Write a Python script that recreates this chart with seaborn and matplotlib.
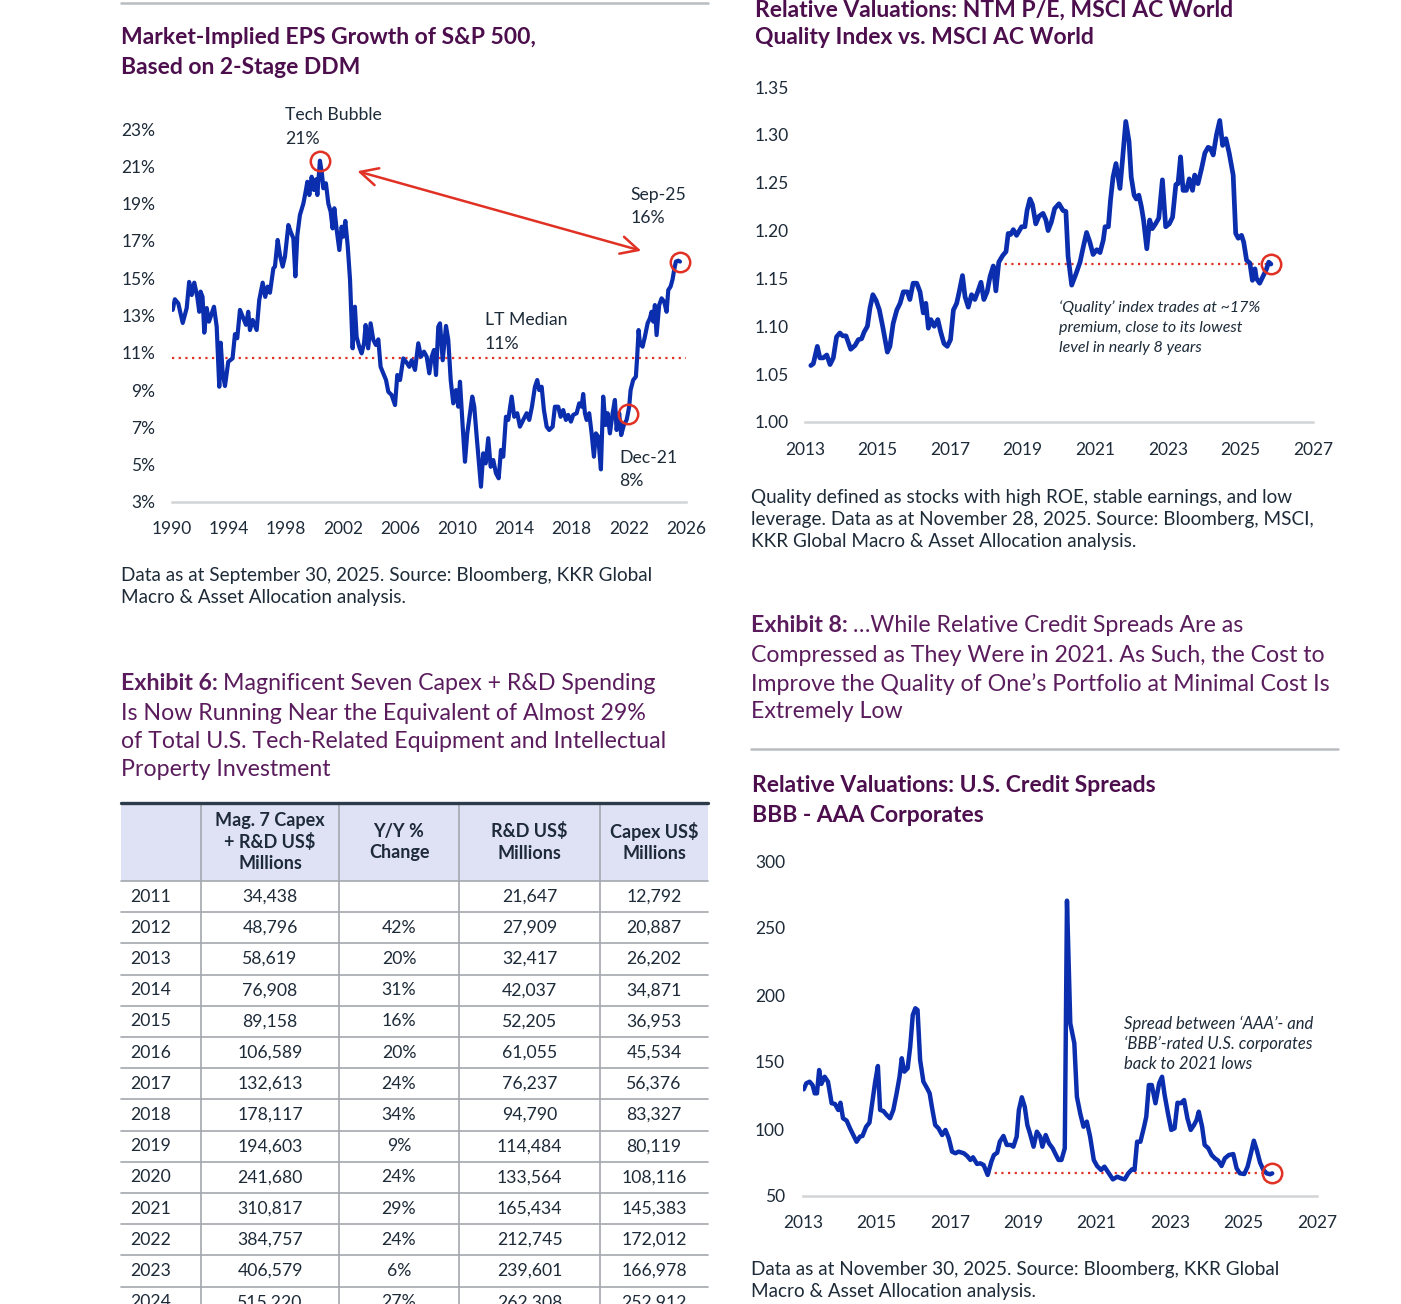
import numpy as np
import pandas as pd
import matplotlib
matplotlib.use("Agg")
import matplotlib.pyplot as plt
import seaborn as sns
from matplotlib.patches import Rectangle

# ---------------- data ----------------
# Market-implied EPS growth of S&P 500 (%)
eps_year = [1990.05, 1990.2, 1990.44, 1990.75, 1991.03, 1991.2, 1991.38, 1991.56, 1991.77, 1991.91,
            1992.0, 1992.14, 1992.26, 1992.43, 1992.59, 1992.78, 1992.94, 1993.13, 1993.31, 1993.41,
            1993.55, 1993.71, 1993.94, 1994.24, 1994.41, 1994.57, 1994.76, 1995.0, 1995.18, 1995.34,
            1995.46, 1995.65, 1995.93, 1996.11, 1996.35, 1996.53, 1996.7, 1996.86, 1997.1, 1997.21,
            1997.4, 1997.56, 1997.75, 1997.91, 1998.15, 1998.31, 1998.5, 1998.64, 1998.78, 1998.96,
            1999.2, 1999.36, 1999.48, 1999.62, 1999.78, 1999.94, 2000.08, 2000.18, 2000.36, 2000.5,
            2000.6, 2000.78, 2000.95, 2001.11, 2001.25, 2001.37, 2001.53, 2001.72, 2001.88, 2002.0,
            2002.14, 2002.31, 2002.47, 2002.65, 2002.81, 2002.93, 2003.11, 2003.28, 2003.45, 2003.56,
            2003.74, 2003.91, 2004.1, 2004.28, 2004.45, 2004.61, 2004.8, 2004.99, 2005.15, 2005.38,
            2005.62, 2005.78, 2005.97, 2006.2, 2006.44, 2006.62, 2006.79, 2007.02, 2007.25, 2007.44,
            2007.65, 2007.84, 2008.02, 2008.19, 2008.35, 2008.49, 2008.65, 2008.77, 2008.96, 2009.19,
            2009.35, 2009.52, 2009.7, 2009.89, 2010.05, 2010.17, 2010.36, 2010.52, 2010.68, 2010.87,
            2011.03, 2011.17, 2011.34, 2011.48, 2011.64, 2011.8, 2011.97, 2012.15, 2012.32, 2012.5,
            2012.69, 2012.88, 2013.04, 2013.2, 2013.39, 2013.55, 2013.79, 2013.97, 2014.18, 2014.37,
            2014.6, 2014.84, 2015.02, 2015.21, 2015.42, 2015.58, 2015.72, 2015.89, 2016.05, 2016.24,
            2016.42, 2016.66, 2016.82, 2017.05, 2017.22, 2017.4, 2017.59, 2017.75, 2017.94, 2018.1,
            2018.34, 2018.52, 2018.69, 2018.8, 2018.92, 2019.04, 2019.22, 2019.39, 2019.55, 2019.69,
            2019.85, 2020.04, 2020.2, 2020.37, 2020.51, 2020.67, 2020.86, 2021.02, 2021.14, 2021.32,
            2021.46, 2021.65, 2021.84, 2021.92, 2022.02, 2022.12, 2022.3, 2022.49, 2022.58, 2022.68,
            2022.77, 2022.96, 2023.12, 2023.31, 2023.47, 2023.59, 2023.71, 2023.82, 2023.94, 2024.12,
            2024.29, 2024.47, 2024.64, 2024.76, 2024.92, 2025.06, 2025.17, 2025.29, 2025.46, 2025.58]
eps_value = [13.3, 13.87, 13.65, 12.6, 13.4, 14.8, 14.1, 14.76, 14.0, 13.2,
             14.28, 14.0, 12.08, 13.4, 12.67, 13.1, 13.47, 12.4, 9.18, 11.54,
             9.9, 9.22, 10.52, 10.7, 12.0, 11.78, 13.3, 12.85, 12.5, 13.2,
             12.22, 12.76, 12.22, 13.83, 14.76, 14.0, 14.55, 14.22, 15.53, 15.62,
             17.05, 16.24, 15.62, 16.15, 17.85, 17.49, 17.14, 15.1, 17.32, 18.39,
             19.0, 19.64, 20.17, 19.46, 20.44, 19.73, 20.3, 19.46, 21.3, 20.62,
             19.82, 20.09, 19.0, 18.57, 17.67, 18.75, 17.62, 16.51, 17.76, 17.23,
             18.07, 16.69, 14.9, 11.24, 13.47, 11.86, 11.33, 10.97, 11.51, 12.49,
             11.24, 12.58, 11.69, 11.42, 11.72, 10.25, 9.9, 9.54, 8.91, 8.74,
             8.2, 9.81, 9.54, 10.7, 10.47, 10.25, 10.6, 10.08, 11.51, 10.79,
             11.06, 10.79, 9.9, 10.79, 11.15, 9.81, 12.4, 12.58, 10.6, 12.44,
             11.69, 9.54, 8.29, 9.0, 8.11, 9.45, 7.04, 5.16, 6.68, 7.76,
             8.65, 8.11, 6.5, 5.25, 3.82, 5.61, 5.07, 6.42, 4.89, 5.25,
             4.54, 4.27, 5.79, 5.43, 7.57, 7.4, 8.65, 7.57, 7.76, 7.04,
             7.4, 7.76, 7.4, 8.11, 9.18, 9.54, 9.0, 9.18, 7.93, 7.04,
             6.86, 7.04, 8.11, 8.11, 7.57, 7.93, 7.4, 7.67, 7.31, 7.67,
             7.76, 8.29, 8.11, 8.79, 7.76, 7.4, 7.76, 6.68, 5.43, 6.68,
             6.5, 4.75, 8.65, 7.13, 7.76, 6.68, 7.76, 8.47, 6.86, 7.76,
             6.59, 7.13, 7.4, 7.7, 8.11, 9.0, 9.54, 9.72, 10.79, 12.22,
             11.51, 11.33, 11.86, 12.58, 12.85, 13.2, 12.67, 13.56, 11.95, 13.56,
             13.92, 13.74, 13.2, 14.37, 14.55, 14.94, 15.44, 15.89, 15.94, 15.89]
eps_median = 10.7
eps_dec21 = 2021.92

# NTM P/E ratio, MSCI AC World Quality vs. MSCI AC World
quality_year = [2013.16, 2013.23, 2013.34, 2013.41, 2013.5, 2013.6, 2013.69, 2013.78, 2013.87, 2013.96,
                2014.04, 2014.13, 2014.26, 2014.38, 2014.47, 2014.56, 2014.63, 2014.72, 2014.79, 2014.87,
                2014.96, 2015.05, 2015.14, 2015.27, 2015.34, 2015.43, 2015.53, 2015.62, 2015.71, 2015.82,
                2015.89, 2015.98, 2016.08, 2016.17, 2016.26, 2016.33, 2016.4, 2016.47, 2016.56, 2016.66,
                2016.74, 2016.83, 2016.92, 2017.01, 2017.09, 2017.18, 2017.25, 2017.34, 2017.41, 2017.5,
                2017.59, 2017.68, 2017.76, 2017.85, 2017.93, 2018.02, 2018.1, 2018.19, 2018.26, 2018.34,
                2018.45, 2018.54, 2018.6, 2018.67, 2018.74, 2018.83, 2018.97, 2019.06, 2019.12, 2019.2,
                2019.27, 2019.36, 2019.45, 2019.56, 2019.64, 2019.7, 2019.79, 2019.88, 2020.0, 2020.11,
                2020.19, 2020.25, 2020.35, 2020.47, 2020.58, 2020.67, 2020.76, 2020.85, 2020.94, 2021.04,
                2021.13, 2021.22, 2021.27, 2021.36, 2021.42, 2021.49, 2021.57, 2021.68, 2021.75, 2021.84,
                2021.93, 2021.99, 2022.07, 2022.13, 2022.2, 2022.27, 2022.33, 2022.42, 2022.5, 2022.57,
                2022.66, 2022.75, 2022.85, 2022.94, 2023.04, 2023.13, 2023.22, 2023.28, 2023.35, 2023.42,
                2023.51, 2023.59, 2023.68, 2023.74, 2023.83, 2023.93, 2024.02, 2024.11, 2024.17, 2024.25,
                2024.34, 2024.43, 2024.51, 2024.6, 2024.69, 2024.8, 2024.87, 2024.94, 2025.03, 2025.09,
                2025.17, 2025.26, 2025.33, 2025.4, 2025.44, 2025.53, 2025.62, 2025.71, 2025.78, 2025.84]
quality_value = [1.059, 1.061, 1.079, 1.067, 1.067, 1.070, 1.060, 1.067, 1.089, 1.093,
                 1.090, 1.090, 1.076, 1.080, 1.086, 1.087, 1.094, 1.100, 1.119, 1.133,
                 1.127, 1.117, 1.100, 1.073, 1.079, 1.103, 1.117, 1.124, 1.136, 1.136,
                 1.128, 1.145, 1.145, 1.136, 1.114, 1.124, 1.098, 1.107, 1.100, 1.107,
                 1.094, 1.082, 1.079, 1.086, 1.117, 1.124, 1.136, 1.153, 1.131, 1.120,
                 1.133, 1.128, 1.136, 1.146, 1.128, 1.136, 1.152, 1.163, 1.137, 1.167,
                 1.174, 1.178, 1.197, 1.196, 1.201, 1.195, 1.204, 1.204, 1.221, 1.233,
                 1.227, 1.207, 1.215, 1.218, 1.211, 1.200, 1.209, 1.223, 1.228, 1.221,
                 1.220, 1.173, 1.143, 1.155, 1.167, 1.183, 1.198, 1.188, 1.175, 1.180,
                 1.177, 1.190, 1.204, 1.204, 1.232, 1.256, 1.270, 1.244, 1.274, 1.314,
                 1.293, 1.256, 1.237, 1.233, 1.237, 1.225, 1.211, 1.181, 1.211, 1.202,
                 1.207, 1.213, 1.253, 1.204, 1.207, 1.214, 1.248, 1.249, 1.277, 1.242,
                 1.242, 1.254, 1.242, 1.258, 1.249, 1.265, 1.281, 1.287, 1.286, 1.279,
                 1.300, 1.315, 1.289, 1.296, 1.281, 1.258, 1.197, 1.192, 1.195, 1.188,
                 1.169, 1.166, 1.148, 1.160, 1.150, 1.145, 1.152, 1.159, 1.167, 1.165]
quality_ref_start = 2018.32

# BBB - AAA US corporate spread (bp)
spread_year = [2013.02, 2013.09, 2013.18, 2013.26, 2013.32, 2013.38, 2013.44, 2013.5, 2013.59, 2013.68,
               2013.78, 2013.87, 2013.96, 2014.02, 2014.09, 2014.19, 2014.28, 2014.37, 2014.46, 2014.55,
               2014.62, 2014.72, 2014.81, 2014.87, 2014.96, 2015.04, 2015.1, 2015.19, 2015.28, 2015.37,
               2015.46, 2015.55, 2015.63, 2015.69, 2015.76, 2015.85, 2015.92, 2015.99, 2016.06, 2016.12,
               2016.19, 2016.28, 2016.38, 2016.45, 2016.51, 2016.6, 2016.69, 2016.79, 2016.88, 2016.97,
               2017.06, 2017.15, 2017.24, 2017.38, 2017.47, 2017.56, 2017.63, 2017.74, 2017.83, 2017.92,
               2018.03, 2018.13, 2018.2, 2018.29, 2018.36, 2018.46, 2018.55, 2018.66, 2018.73, 2018.82,
               2018.88, 2018.96, 2019.04, 2019.11, 2019.18, 2019.28, 2019.37, 2019.46, 2019.52, 2019.61,
               2019.7, 2019.8, 2019.89, 2019.96, 2020.04, 2020.13, 2020.19, 2020.28, 2020.39, 2020.46,
               2020.55, 2020.64, 2020.73, 2020.82, 2020.92, 2021.01, 2021.12, 2021.21, 2021.32, 2021.44,
               2021.56, 2021.66, 2021.76, 2021.86, 2021.96, 2022.03, 2022.1, 2022.19, 2022.29, 2022.35,
               2022.42, 2022.5, 2022.6, 2022.7, 2022.78, 2022.85, 2022.94, 2023.03, 2023.12, 2023.2,
               2023.29, 2023.38, 2023.47, 2023.56, 2023.65, 2023.72, 2023.78, 2023.87, 2023.94, 2024.04,
               2024.13, 2024.22, 2024.31, 2024.4, 2024.49, 2024.6, 2024.72, 2024.81, 2024.9, 2025.02,
               2025.11, 2025.2, 2025.28, 2025.36, 2025.45, 2025.54, 2025.63, 2025.72, 2025.78]
spread_value = [129.6, 134.1, 135.3, 132.8, 126.6, 126.6, 144.0, 133.6, 139.0, 135.3,
                119.2, 118.7, 114.2, 119.6, 108.0, 106.2, 100.5, 95.5, 90.5, 94.3,
                94.8, 101.7, 104.7, 116.6, 134.1, 147.0, 114.2, 113.4, 110.4, 108.0,
                114.2, 126.6, 139.0, 152.8, 142.8, 145.3, 161.4, 185.1, 190.1, 188.8,
                151.5, 135.3, 130.4, 126.6, 116.6, 103.0, 100.5, 95.5, 99.3, 93.1,
                83.1, 81.9, 83.1, 81.9, 79.9, 76.9, 78.9, 73.9, 74.4, 73.1,
                65.7, 75.6, 80.6, 82.3, 90.5, 94.8, 88.1, 88.1, 86.8, 94.3,
                114.2, 123.7, 116.6, 103.0, 96.8, 86.8, 98.0, 94.3, 86.8, 95.5,
                89.3, 85.6, 80.6, 76.9, 76.9, 85.6, 270.4, 178.9, 164.0, 124.1,
                111.7, 101.7, 105.5, 94.3, 76.9, 72.4, 69.4, 71.9, 67.4, 62.4,
                64.4, 63.2, 62.4, 66.9, 69.9, 69.4, 90.5, 90.5, 101.7, 109.2,
                132.8, 132.8, 119.2, 134.1, 139.0, 125.4, 111.7, 99.3, 100.5, 119.6,
                119.2, 121.6, 108.0, 99.3, 103.0, 106.7, 112.9, 101.7, 88.1, 85.6,
                80.6, 78.1, 76.4, 72.4, 78.1, 80.6, 81.3, 70.7, 66.9, 66.4,
                71.9, 81.9, 91.3, 84.3, 74.9, 69.4, 66.9, 66.2, 66.9]
spread_ref_start = 2018.03

# Exhibit 6 table
table_years = [2011, 2012, 2013, 2014, 2015, 2016, 2017, 2018, 2019, 2020, 2021, 2022, 2023, 2024]
mag7_total = [34438, 48796, 58619, 76908, 89158, 106589, 132613, 178117, 194603, 241680,
              310817, 384757, 406579, 515220]
yoy_change = [None, 42, 20, 31, 16, 20, 24, 34, 9, 24, 29, 24, 6, 27]
rd_spend = [21647, 27909, 32417, 42037, 52205, 61055, 76237, 94790, 114484, 133564,
            165434, 212745, 239601, 262308]
capex_spend = [12792, 20887, 26202, 34871, 36953, 45534, 56376, 83327, 80119, 108116,
               145383, 172012, 166978, 252912]
table_headers = ["", "Mag. 7 Capex\n+ R&D US$\nMillions", "Y/Y %\nChange",
                 "R&D US$\nMillions", "Capex US$\nMillions"]

# ---------------- style ----------------
BLUE = "#0a2eae"
RED = "#e03124"
TITLE = "#4c0e4c"
EXHIBIT = "#5a1c5c"
TEXT = "#1d2a38"
AXIS = "#d2d4d6"
RULE = "#b9bdc1"
GRID = "#a3a8ae"
HEADER_BG = "#dfe1f5"

TITLE_SIZE = 16.5
EXHIBIT_SIZE = 16.7
NOTE_SIZE = 13.6

sns.set_theme(style="white")
plt.rcParams["font.family"] = ["Lato", "DejaVu Sans"]

W, H = 1401, 1304
fig = plt.figure(figsize=(W / 100, H / 100), dpi=100)


def add_ax(left, top, right, bottom):
    return fig.add_axes([left / W, 1 - bottom / H, (right - left) / W, (bottom - top) / H])


def style_axis(ax, xticks, yticks, ylabels, xpad, ypad):
    for s in ["top", "right", "left"]:
        ax.spines[s].set_visible(False)
    ax.spines["bottom"].set_color(AXIS)
    ax.spines["bottom"].set_linewidth(1.8)
    ax.set_xticks(xticks)
    ax.set_xticklabels([str(t) for t in xticks])
    ax.set_yticks(yticks)
    ax.set_yticklabels(ylabels)
    ax.tick_params(axis="x", length=5, width=1.5, color=AXIS, pad=xpad,
                   labelsize=12.5, labelcolor=TEXT)
    ax.tick_params(axis="y", length=0, pad=ypad, labelsize=12.5, labelcolor=TEXT)
    ax.set_xlabel("")
    ax.set_ylabel("")
    ax.grid(False)
    ax.patch.set_alpha(0)


# ---------------- EPS growth chart ----------------
eps_df = pd.DataFrame({"year": eps_year, "value": eps_value})
ax1 = add_ax(172, 129, 686, 502)
sns.lineplot(data=eps_df, x="year", y="value", ax=ax1, color=BLUE, linewidth=3.0)
ax1.set_xlim(1990, 2026)
ax1.set_ylim(3, 23)
ax1.axhline(eps_median, color=RED, lw=1.6, ls=(0, (1, 2)), zorder=1)
style_axis(ax1, list(range(1990, 2027, 4)), list(range(3, 24, 2)),
           [f"{v}%" for v in range(3, 24, 2)], 9, 12)

peak_i = int(np.argmax(eps_value))
dec_i = eps_year.index(eps_dec21)
for i in [peak_i, len(eps_year) - 1, dec_i]:
    ax1.plot([eps_year[i]], [eps_value[i]], marker="o", ms=14, mfc="none", mec=RED,
             mew=1.8, clip_on=False, zorder=5)
ax1.annotate("", xy=(eps_year[-1], eps_value[-1]), xytext=(eps_year[peak_i], eps_value[peak_i]),
             arrowprops=dict(arrowstyle="<->,head_length=0.7,head_width=0.35", color=RED,
                             lw=1.8, shrinkA=28, shrinkB=29, mutation_scale=18),
             annotation_clip=False)

# ---------------- Quality relative P/E chart ----------------
q_df = pd.DataFrame({"year": quality_year, "value": quality_value})
ax2 = add_ax(805, 87, 1313, 422)
sns.lineplot(data=q_df, x="year", y="value", ax=ax2, color=BLUE, linewidth=3.4)
ax2.set_xlim(2013, 2027)
ax2.set_ylim(1.00, 1.35)
ax2.hlines(quality_value[-1], quality_ref_start, quality_year[-1], color=RED, lw=1.6,
           ls=(0, (1, 2)), zorder=1)
ax2.plot([quality_year[-1]], [quality_value[-1]], marker="o", ms=14, mfc="none", mec=RED,
         mew=1.8, clip_on=False, zorder=5)
qt = [1.00, 1.05, 1.10, 1.15, 1.20, 1.25, 1.30, 1.35]
style_axis(ax2, list(range(2013, 2028, 2)), qt, [f"{v:.2f}" for v in qt], 9.5, 11.5)

# ---------------- Credit spread chart ----------------
s_df = pd.DataFrame({"year": spread_year, "value": spread_value})
ax3 = add_ax(803, 861, 1317, 1196)
sns.lineplot(data=s_df, x="year", y="value", ax=ax3, color=BLUE, linewidth=3.2)
ax3.set_xlim(2013, 2027)
ax3.set_ylim(50, 300)
ax3.hlines(spread_value[-1], spread_ref_start, spread_year[-1], color=RED, lw=1.6,
           ls=(0, (1, 2)), zorder=1)
ax3.plot([spread_year[-1]], [spread_value[-1]], marker="o", ms=14, mfc="none", mec=RED,
         mew=1.8, clip_on=False, zorder=5)
st = list(range(50, 301, 50))
style_axis(ax3, list(range(2013, 2028, 2)), st, [str(v) for v in st], 9, 13)

# ---------------- overlay for text, rules and table (pixel coords) ----------------
lay = fig.add_axes([0, 0, 1, 1])
lay.set_xlim(0, W)
lay.set_ylim(H, 0)
lay.axis("off")


def txt(x, y, s, size=12.5, color=TEXT, **kw):
    return lay.text(x, y, s, fontsize=size, color=color, va="center", ha=kw.pop("ha", "left"), **kw)


renderer = fig.canvas.get_renderer()


def exhibit(x, ys, label, lines, size=EXHIBIT_SIZE):
    t = txt(x, ys[0], label, size=size, color=EXHIBIT, weight="bold")
    x_end = t.get_window_extent(renderer).x1
    txt(x_end + 5, ys[0], lines[0], size=size, color=EXHIBIT)
    for y, line in zip(ys[1:], lines[1:]):
        txt(x, y, line, size=size, color=EXHIBIT)


# rules
lay.plot([121, 708], [3, 3], color=RULE, lw=1.8)
lay.plot([751, 1338], [749, 749], color=RULE, lw=1.8)

# chart titles
for y, s in zip([38, 67], ["Market-Implied EPS Growth of S&P 500,", "Based on 2-Stage DDM"]):
    txt(121, y, s, size=TITLE_SIZE, color=TITLE, weight="bold")
for y, s in zip([10, 38], ["Relative Valuations: NTM P/E, MSCI AC World",
                           "Quality Index vs. MSCI AC World"]):
    txt(755, y, s, size=TITLE_SIZE, color=TITLE, weight="bold")
for y, s in zip([786, 815], ["Relative Valuations: U.S. Credit Spreads", "BBB - AAA Corporates"]):
    txt(752, y, s, size=TITLE_SIZE, color=TITLE, weight="bold")

# EPS annotations
for x, y, s in [(285, 115, "Tech Bubble"), (285, 139, "21%"), (630, 195, "Sep-25"), (630, 218, "16%"),
                (485, 320, "LT Median"), (485, 344, "11%"), (619, 458, "Dec-21"), (619, 481, "8%")]:
    txt(x, y, s, size=12.7)

# italic notes
for y, s in zip([308, 328, 348], ["\u2018Quality\u2019 index trades at ~17%",
                                  "premium, close to its lowest", "level in nearly 8 years"]):
    txt(1059, y, s, size=11.5, style="italic")
for y, s in zip([1024, 1044, 1064], ["Spread between \u2018AAA\u2019- and",
                                     "\u2018BBB\u2019-rated U.S. corporates", "back to 2021 lows"]):
    txt(1124, y, s, size=12, style="italic")

# footnotes
for y, s in zip([576, 598], ["Data as at September 30, 2025. Source: Bloomberg, KKR Global",
                             "Macro & Asset Allocation analysis."]):
    txt(121, y, s, size=NOTE_SIZE)
for y, s in zip([497, 519, 541], ["Quality defined as stocks with high ROE, stable earnings, and low",
                                  "leverage. Data as at November 28, 2025. Source: Bloomberg, MSCI,",
                                  "KKR Global Macro & Asset Allocation analysis."]):
    txt(751, y, s, size=NOTE_SIZE)
for y, s in zip([1270, 1292], ["Data as at November 30, 2025. Source: Bloomberg, KKR Global",
                               "Macro & Asset Allocation analysis."]):
    txt(751, y, s, size=NOTE_SIZE)

# exhibit headings
exhibit(121, [684, 713, 741, 770], "Exhibit 6:",
        ["Magnificent Seven Capex + R&D Spending",
         "Is Now Running Near the Equivalent of Almost 29%",
         "of Total U.S. Tech-Related Equipment and Intellectual",
         "Property Investment"])
exhibit(751, [626, 655, 684, 712], "Exhibit 8:",
        ["\u2026While Relative Credit Spreads Are as",
         "Compressed as They Were in 2021. As Such, the Cost to",
         "Improve the Quality of One\u2019s Portfolio at Minimal Cost Is",
         "Extremely Low"])

# table
col_edges = [121, 201, 339, 459, 600, 708]
head_top, head_bot, row_h = 803, 881, 31.2
lay.add_patch(Rectangle((col_edges[0], head_top), col_edges[-1] - col_edges[0], head_bot - head_top,
                        facecolor=HEADER_BG, edgecolor="none", zorder=0))
for i in range(len(table_years) + 1):
    y = head_bot + i * row_h
    lay.plot([col_edges[0], col_edges[-1]], [y, y], color=GRID, lw=1.2, zorder=1)
for x in col_edges[1:-1]:
    lay.plot([x, x], [head_top, H + 20], color=GRID, lw=1.2, zorder=1)
lay.plot([col_edges[0], col_edges[-1]], [head_top, head_top], color="#2c3a4a", lw=2.4, zorder=2)

centers = [(a + b) / 2 for a, b in zip(col_edges[:-1], col_edges[1:])]
for c, h in zip(centers[1:], table_headers[1:]):
    lay.text(c, (head_top + head_bot) / 2, h, fontsize=13, color=TEXT, weight="bold",
             ha="center", va="center", linespacing=1.3, parse_math=False)
for i, yr in enumerate(table_years):
    y = head_bot + (i + 0.5) * row_h
    txt(130, y, str(yr), size=12.7)
    cells = [f"{mag7_total[i]:,}", "" if yoy_change[i] is None else f"{yoy_change[i]}%",
             f"{rd_spend[i]:,}", f"{capex_spend[i]:,}"]
    for c, s in zip(centers[1:], cells):
        txt(c, y, s, size=12.7, ha="center")

fig.savefig("out.png", dpi=100)
